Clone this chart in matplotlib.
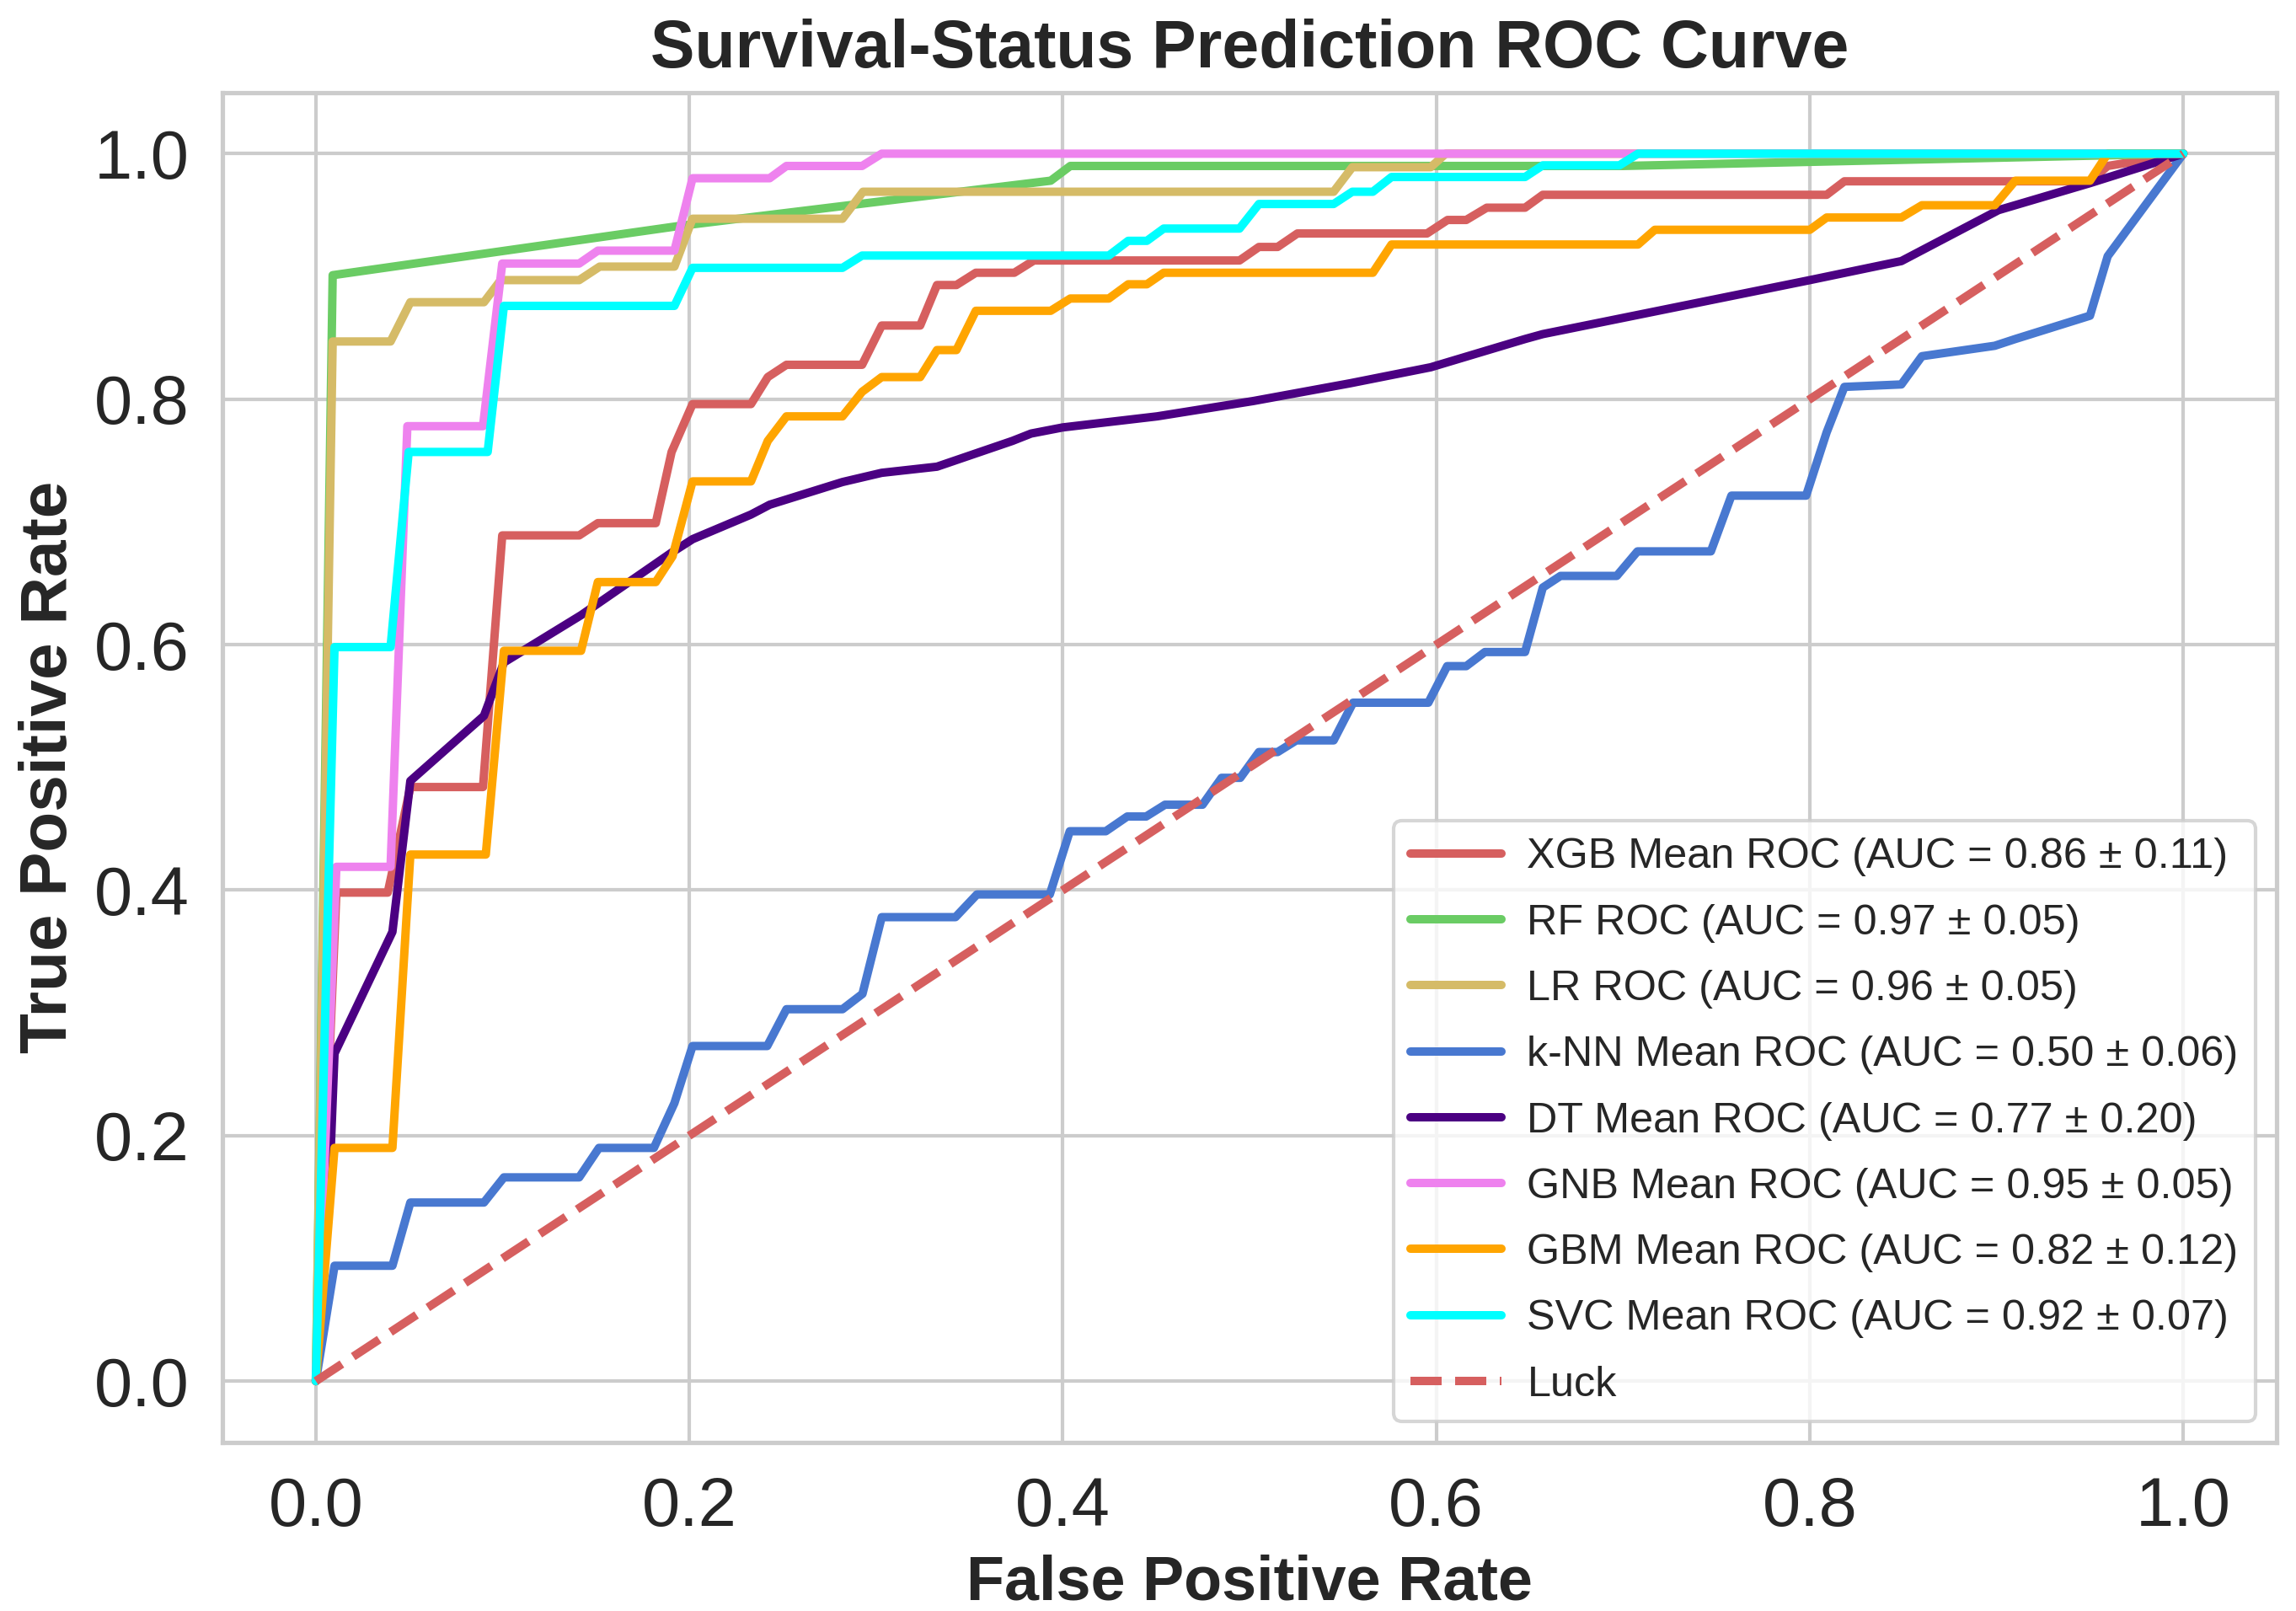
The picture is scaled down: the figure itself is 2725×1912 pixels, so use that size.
import matplotlib
matplotlib.use("Agg")
import matplotlib.pyplot as plt
import seaborn as sns

sns.set_style("whitegrid")
plt.rcParams['font.family'] = ['Liberation Sans', 'DejaVu Sans']
plt.rcParams['lines.solid_capstyle'] = 'round'

# ---------------- data ----------------
xgb_fpr = [0, 0.011, 0.0385, 0.0506, 0.0895, 0.0998, 0.141, 0.151, 0.182, 0.1905, 0.2017, 0.233, 0.242, 0.252,
           0.2925, 0.303, 0.3236, 0.3326, 0.343, 0.3534, 0.374, 0.3845, 0.4946, 0.505, 0.515, 0.5256, 0.595,
           0.606, 0.616, 0.627, 0.6475, 0.657, 0.809, 0.8185, 0.95, 0.9595, 1.0]
xgb_tpr = [0, 0.398, 0.398, 0.484, 0.484, 0.689, 0.689, 0.699, 0.699, 0.757, 0.796, 0.796, 0.818, 0.828,
           0.828, 0.860, 0.860, 0.893, 0.893, 0.903, 0.903, 0.913, 0.913, 0.924, 0.924, 0.935, 0.935,
           0.946, 0.946, 0.956, 0.956, 0.9665, 0.9665, 0.9775, 0.9775, 0.99, 1.0]

rf_fpr = [0, 0.009, 0.194, 0.3935, 0.404, 0.70, 1.0]
rf_tpr = [0, 0.901, 0.941, 0.978, 0.990, 0.990, 1.0]

lr_fpr = [0, 0.009, 0.040, 0.0506, 0.090, 0.099, 0.141, 0.152, 0.192, 0.2017, 0.282, 0.293, 0.545, 0.555,
          0.597, 0.605, 1.0]
lr_tpr = [0, 0.847, 0.847, 0.879, 0.879, 0.897, 0.897, 0.908, 0.908, 0.947, 0.947, 0.969, 0.969, 0.989,
          0.989, 1.0, 1.0]

knn_fpr = [0, 0.010, 0.041, 0.0506, 0.090, 0.1007, 0.141, 0.1516, 0.181, 0.192, 0.2017, 0.2417, 0.252, 0.282,
           0.2927, 0.303, 0.3425, 0.354, 0.393, 0.4037, 0.423, 0.4345, 0.4446, 0.4547, 0.4748, 0.485, 0.495,
           0.505, 0.515, 0.525, 0.545, 0.5554, 0.5957, 0.6058, 0.616, 0.626, 0.6475, 0.657, 0.6665, 0.6966,
           0.7077, 0.747, 0.758, 0.798, 0.809, 0.8185, 0.849, 0.86, 0.899, 0.91, 0.95, 0.9595, 1.0]
knn_tpr = [0, 0.094, 0.094, 0.1455, 0.1455, 0.166, 0.166, 0.190, 0.190, 0.2265, 0.273, 0.273, 0.303, 0.303,
           0.3155, 0.378, 0.378, 0.3965, 0.3965, 0.448, 0.448, 0.460, 0.460, 0.4696, 0.4696, 0.4915, 0.4915,
           0.5125, 0.5125, 0.522, 0.522, 0.5527, 0.5527, 0.5825, 0.5825, 0.594, 0.594, 0.6465, 0.656, 0.656,
           0.676, 0.676, 0.7214, 0.7214, 0.773, 0.810, 0.812, 0.835, 0.8435, 0.849, 0.868, 0.9165, 1.0]

dt_fpr = [0, 0.008, 0.010, 0.041, 0.0506, 0.090, 0.1007, 0.142, 0.1905, 0.2018, 0.233, 0.243, 0.282, 0.303,
          0.3326, 0.373, 0.383, 0.400, 0.4505, 0.502, 0.554, 0.597, 0.6475, 0.657, 0.80, 0.849, 0.901, 0.95, 1.0]
dt_tpr = [0, 0.19, 0.267, 0.366, 0.489, 0.542, 0.5855, 0.624, 0.675, 0.686, 0.706, 0.714, 0.7325, 0.740,
          0.745, 0.766, 0.772, 0.777, 0.786, 0.7985, 0.813, 0.826, 0.849, 0.853, 0.897, 0.9125, 0.954, 0.976, 1.0]

gnb_fpr = [0, 0.011, 0.040, 0.049, 0.0895, 0.0998, 0.141, 0.151, 0.192, 0.2017, 0.243, 0.252, 0.2925, 0.303, 1.0]
gnb_tpr = [0, 0.419, 0.419, 0.778, 0.778, 0.9105, 0.9105, 0.921, 0.921, 0.980, 0.980, 0.990, 0.990, 1.0, 1.0]

gbm_fpr = [0, 0.010, 0.041, 0.0506, 0.091, 0.1007, 0.142, 0.151, 0.182, 0.191, 0.2017, 0.233, 0.242, 0.252,
           0.282, 0.2925, 0.303, 0.3236, 0.3326, 0.343, 0.3534, 0.3935, 0.404, 0.4246, 0.435, 0.445, 0.454,
           0.566, 0.576, 0.708, 0.717, 0.80, 0.809, 0.849, 0.86, 0.899, 0.91, 0.95, 0.9595, 1.0]
gbm_tpr = [0, 0.190, 0.190, 0.429, 0.429, 0.595, 0.595, 0.651, 0.651, 0.672, 0.733, 0.733, 0.766, 0.786,
           0.786, 0.806, 0.818, 0.818, 0.840, 0.840, 0.872, 0.872, 0.882, 0.882, 0.8936, 0.8936, 0.903,
           0.903, 0.926, 0.926, 0.938, 0.938, 0.948, 0.948, 0.958, 0.958, 0.978, 0.978, 1.0, 1.0]

svc_fpr = [0, 0.010, 0.040, 0.0497, 0.092, 0.1007, 0.192, 0.2017, 0.282, 0.2925, 0.4246, 0.435, 0.445, 0.454,
           0.4946, 0.505, 0.545, 0.555, 0.566, 0.576, 0.6475, 0.657, 0.698, 0.708, 1.0]
svc_tpr = [0, 0.598, 0.598, 0.757, 0.757, 0.876, 0.876, 0.907, 0.907, 0.917, 0.917, 0.929, 0.929, 0.939,
           0.939, 0.959, 0.959, 0.969, 0.969, 0.981, 0.981, 0.9905, 0.9905, 1.0, 1.0]

luck_x = [0, 1]
luck_y = [0, 1]

labels = [
    "XGB Mean ROC (AUC = 0.86 \u00b1 0.11)",
    "RF ROC (AUC = 0.97 \u00b1 0.05)",
    "LR ROC (AUC = 0.96 \u00b1 0.05)",
    "k-NN Mean ROC (AUC = 0.50 \u00b1 0.06)",
    "DT Mean ROC (AUC = 0.77 \u00b1 0.20)",
    "GNB Mean ROC (AUC = 0.95 \u00b1 0.05)",
    "GBM Mean ROC (AUC = 0.82 \u00b1 0.12)",
    "SVC Mean ROC (AUC = 0.92 \u00b1 0.07)",
]
colors = ["#d65f5f", "#6acc64", "#d5bb67", "#4878d0", "#4b0082", "#ee82ee", "#ffa500", "#00ffff"]

curves = [(xgb_fpr, xgb_tpr), (rf_fpr, rf_tpr), (lr_fpr, lr_tpr), (knn_fpr, knn_tpr),
          (dt_fpr, dt_tpr), (gnb_fpr, gnb_tpr), (gbm_fpr, gbm_tpr), (svc_fpr, svc_tpr)]

# ---------------- figure ----------------
fig = plt.figure(figsize=(2725 / 300, 1912 / 300), dpi=300)
ax = fig.add_axes([0.0969, 0.1046, 0.9916 - 0.0969, 0.9427 - 0.1046])

for (fx, ty), lab, c in zip(curves, labels, colors):
    ax.plot(fx, ty, color=c, lw=2.4, label=lab)
ax.plot(luck_x, luck_y, linestyle='--', color="#d65f5f", lw=2.4, label="Luck")

ax.set_xlim(-0.05, 1.05)
ax.set_ylim(-0.05, 1.05)
ax.set_xticks([0, 0.2, 0.4, 0.6, 0.8, 1.0])
ax.set_yticks([0, 0.2, 0.4, 0.6, 0.8, 1.0])
ax.tick_params(axis='both', labelsize=19.5, colors='#262626', length=6, pad=3.5)
ax.set_xlabel("False Positive Rate", fontsize=17.7, fontweight='bold', color='#262626')
ax.set_ylabel("True Positive Rate", fontsize=18.8, fontweight='bold', color='#262626')
ax.set_title("Survival-Status Prediction ROC Curve", fontsize=18.9, fontweight='bold', color='#262626',
             pad=7)

for s in ax.spines.values():
    s.set_color('#cccccc')
    s.set_linewidth(1.25)
ax.grid(True, color='#cccccc', lw=1)

leg = ax.legend(loc='lower right', fontsize=12.1, frameon=True, labelspacing=0.64,
                handlelength=2.15, handletextpad=0.6)
leg.get_frame().set_edgecolor('#cccccc')
for t in leg.get_texts():
    t.set_color('#262626')

fig.savefig("out.png", dpi=300)
